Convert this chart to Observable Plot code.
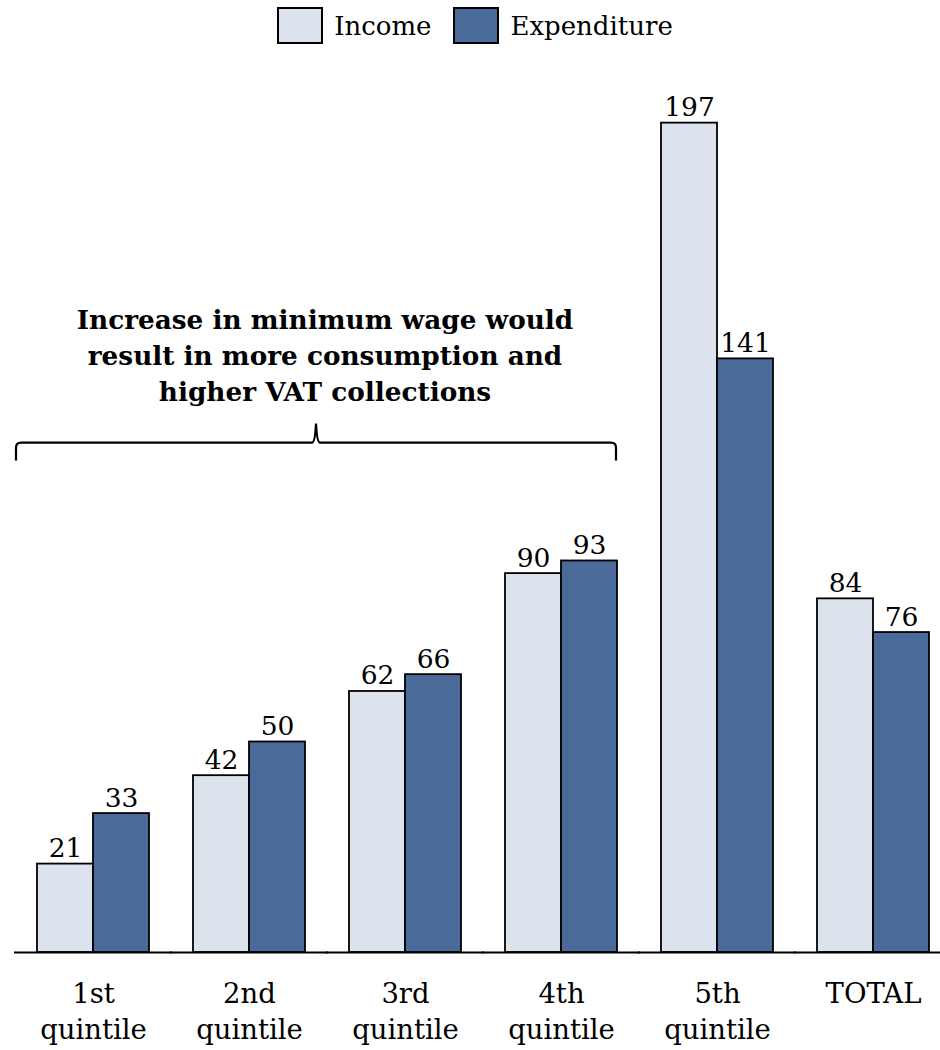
<!DOCTYPE html>
<html>
<head>
<meta charset="utf-8">
<script src="https://cdn.jsdelivr.net/npm/d3@7"></script>
<script src="https://cdn.jsdelivr.net/npm/@observablehq/plot@0.6"></script>
<style>
  html, body { margin: 0; padding: 0; background: #fff; overflow: hidden; }
  #wrap { width: 940px; font-family: "DejaVu Serif", serif; color: #000; }
  #legend { height: 60px; display: flex; justify-content: center; align-items: flex-start; padding-left: 10px; box-sizing: border-box; }
  .item { display: flex; align-items: center; margin: 7px 11px 0 11px; font-size: 26px; }
  .sw { width: 42px; height: 33px; border: 2px solid #000; margin-right: 11px; box-sizing: content-box; }
  svg { display: block; }
</style>
</head>
<body>
<div id="wrap">
  <div id="legend"></div>
  <div id="chart"></div>
</div>
<script>
const categories = ["1st\nquintile", "2nd\nquintile", "3rd\nquintile", "4th\nquintile", "5th\nquintile", "TOTAL"];
const seriesNames = ["Income", "Expenditure"];
const income = [21, 42, 62, 90, 197, 84];
const expenditure = [33, 50, 66, 93, 141, 76];
const seriesColors = ["#dce3ed", "#4a6a9a"];
const annotationLines = ["Increase in minimum wage would", "result in more consumption and", "higher VAT collections"];
const annotationFrom = 0; // first category under the brace
const annotationTo = 3;   // last category under the brace
const annotationLevel = 121; // value level of the brace

const data = categories.flatMap((c, i) => [
  {cat: c, series: seriesNames[0], value: income[i]},
  {cat: c, series: seriesNames[1], value: expenditure[i]}
]);

// legend
const legend = document.getElementById("legend");
seriesNames.forEach((s, i) => {
  const it = document.createElement("div");
  it.className = "item";
  const sw = document.createElement("div");
  sw.className = "sw";
  sw.style.background = seriesColors[i];
  const lb = document.createElement("span");
  lb.textContent = s;
  it.appendChild(sw); it.appendChild(lb);
  legend.appendChild(it);
});

const plot = Plot.plot({
  width: 940,
  height: 990,
  marginTop: 50,
  marginBottom: 98,
  marginLeft: 15,
  marginRight: 0,
  fx: {domain: categories, range: [15, 952], paddingInner: 0.282, paddingOuter: 0.141, label: null},
  x: {domain: seriesNames, padding: 0, axis: null},
  y: {domain: [0, 200], axis: null},
  color: {domain: seriesNames, range: seriesColors},
  style: {fontFamily: "DejaVu Serif", fontSize: "26px", color: "#000", background: "#fff"},
  marks: [
    Plot.barY(data, {fx: "cat", x: "series", y: "value", fill: "series", stroke: "#000", strokeWidth: 1.8}),
    Plot.text(data, {fx: "cat", x: "series", y: "value", text: d => String(d.value), lineAnchor: "bottom", dy: -7, fontSize: 26.5, fill: "#000"}),
    Plot.ruleY([0], {insetLeft: -23, insetRight: -23, stroke: "#000", strokeWidth: 2}),
    Plot.axisFx({anchor: "bottom", tickSize: 0, tickPadding: 25, fontSize: 27.5, lineHeight: 1.3, label: null, fill: "#000"})
  ]
});
document.getElementById("chart").appendChild(plot);

// annotation (brace + text) positioned with the plot's own scales
const fx = plot.scale("fx");
const y = plot.scale("y");
const gap = fx.step - fx.bandwidth;
const x0 = fx.apply(categories[annotationFrom]) - gap / 2 + 1;
const x1 = fx.apply(categories[annotationTo]) + fx.bandwidth - 1;
const xm = (x0 + x1) / 2;
const yb = y.apply(annotationLevel);
const svg = d3.select(plot);
const r = 5;
const path = `M${x0},${yb + 18} L${x0},${yb + r} Q${x0},${yb} ${x0 + r},${yb} L${xm - 4},${yb} Q${xm - 1},${yb} ${xm},${yb - 19} Q${xm + 1},${yb} ${xm + 4},${yb} L${x1 - r},${yb} Q${x1},${yb} ${x1},${yb + r} L${x1},${yb + 18}`;
svg.append("path").attr("d", path).attr("fill", "none").attr("stroke", "#000").attr("stroke-width", 2.2);
const t = svg.append("text")
  .attr("text-anchor", "middle")
  .attr("font-family", "DejaVu Serif")
  .attr("font-weight", "bold")
  .attr("font-size", 26.3)
  .attr("fill", "#000");
annotationLines.forEach((line, i) => {
  t.append("tspan").attr("x", xm + 9).attr("y", yb - 114 + i * 36).text(line);
});
</script>
</body>
</html>
